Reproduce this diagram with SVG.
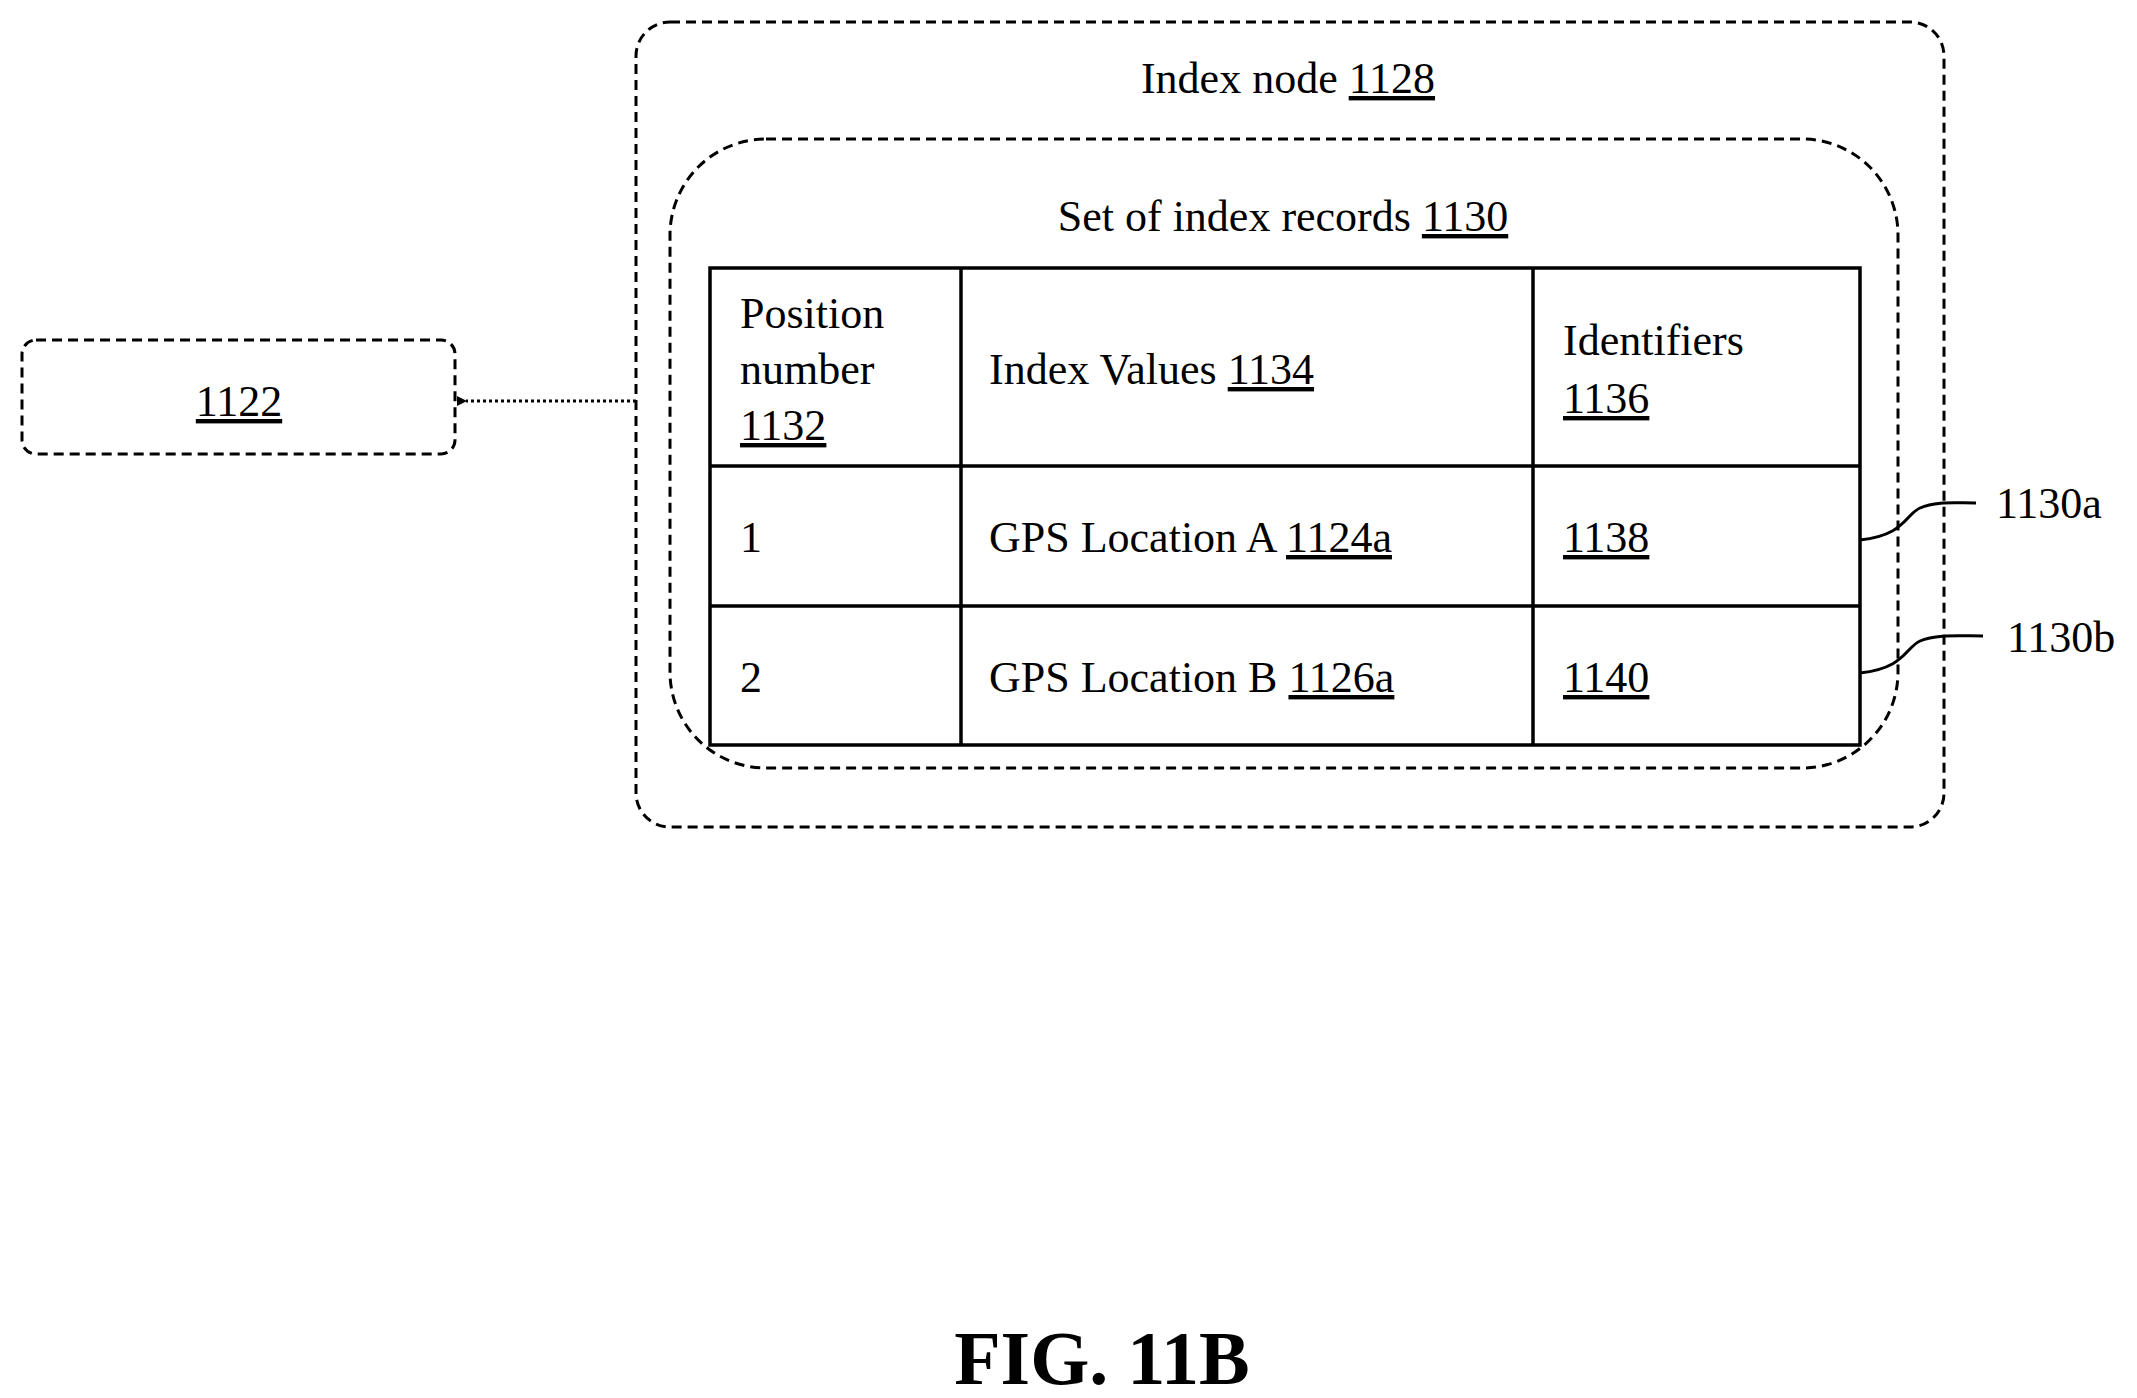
<svg xmlns="http://www.w3.org/2000/svg" width="2137" height="1398" viewBox="0 0 2137 1398">
<style>
text{font-family:"Liberation Serif","Times New Roman",serif;font-size:44px;fill:#000}
.u{text-decoration:underline}
.dash{fill:none;stroke:#000;stroke-width:3;stroke-dasharray:10 6}
.ln{stroke:#000;stroke-width:3.5;fill:none}
</style>
<defs>
<marker id="ah" markerWidth="10" markerHeight="10" refX="1" refY="5" orient="auto" markerUnits="userSpaceOnUse"><path d="M10,0 L0,5 L10,10 Z" fill="#000"/></marker>
</defs>
<g id="n1122">
<rect class="dash" x="22" y="340" width="433" height="114" rx="14"/>
<text x="239" y="416" text-anchor="middle" class="u">1122</text>
</g>
<g id="n1128">
<rect class="dash" x="636" y="22" width="1308" height="805" rx="34"/>
<text x="1288" y="93" text-anchor="middle">Index node <tspan class="u">1128</tspan></text>
</g>
<g id="n1130">
<rect class="dash" x="670" y="139" width="1228" height="629" rx="96"/>
<text x="1283" y="231" text-anchor="middle">Set of index records <tspan class="u">1130</tspan></text>
</g>
<g id="table">
<rect class="ln" x="710" y="268" width="1150" height="477"/>
<line class="ln" x1="961" y1="268" x2="961" y2="745"/>
<line class="ln" x1="1533" y1="268" x2="1533" y2="745"/>
<line class="ln" x1="710" y1="466" x2="1860" y2="466"/>
<line class="ln" x1="710" y1="606" x2="1860" y2="606"/>
<text x="740" y="328">Position</text>
<text x="740" y="384">number</text>
<text x="740" y="440" class="u">1132</text>
<text x="989" y="384">Index Values <tspan class="u">1134</tspan></text>
<text x="1563" y="355">Identifiers</text>
<text x="1563" y="413" class="u">1136</text>
<text x="740" y="552">1</text>
<text x="989" y="552">GPS Location A <tspan class="u">1124a</tspan></text>
<text x="1563" y="552" class="u">1138</text>
<text x="740" y="692">2</text>
<text x="989" y="692">GPS Location B <tspan class="u">1126a</tspan></text>
<text x="1563" y="692" class="u">1140</text>
</g>
<g id="labels">
<text x="1996" y="518">1130a</text>
<text x="2007" y="652">1130b</text>
</g>
<g id="connectors">
<line x1="636" y1="401" x2="466" y2="401" stroke="#000" stroke-width="3" stroke-dasharray="3 3" marker-end="url(#ah)"/>
<path d="M1860,540 C1905,535 1905,515 1920,508 C1935,501 1955,503 1976,503" fill="none" stroke="#000" stroke-width="3"/>
<path d="M1860,673 C1905,668 1905,648 1920,641 C1935,634 1960,636 1983,636" fill="none" stroke="#000" stroke-width="3"/>
</g>
<text x="1102" y="1384" text-anchor="middle" font-weight="bold" style="font-size:76px">FIG. 11B</text>
</svg>
